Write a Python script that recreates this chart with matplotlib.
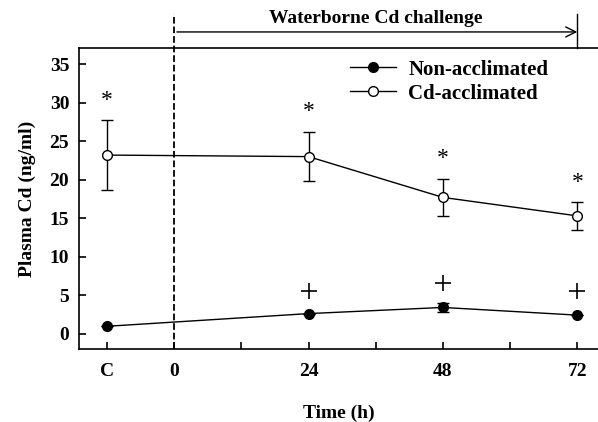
import numpy as np
import matplotlib.pyplot as plt

plt.rcParams['font.family'] = ['Liberation Serif', 'DejaVu Serif']
plt.rcParams['font.weight'] = 'bold'

# Data
time_pos = [-12, 24, 48, 72]          # "C" control plotted at -12
tick_pos = [-12, 0, 24, 48, 72]
tick_labels = ['C', '0', '24', '48', '72']

non_accl = [0.95, 2.6, 3.4, 2.4]
non_accl_err = [0.0, 0.0, 0.6, 0.0]
cd_accl = [23.2, 23.0, 17.7, 15.3]
cd_accl_err = [4.5, 3.2, 2.4, 1.8]

star_y = [30.3, 28.8, 22.8, 19.6]
plus_x = [24, 48, 72]
plus_y = [5.6, 6.6, 5.5]

fig = plt.figure(figsize=(5.98, 4.22), dpi=100)
ax = fig.add_axes([0.132, 0.173, 0.868, 0.713])

ax.errorbar(time_pos, non_accl, yerr=non_accl_err, fmt='none', ecolor='black',
            capsize=4, elinewidth=1, zorder=2)
ax.errorbar(time_pos, cd_accl, yerr=cd_accl_err, fmt='none', ecolor='black',
            capsize=4, elinewidth=1, zorder=2)
ax.plot(time_pos, non_accl, '-o', color='black', mfc='black', mec='black',
        ms=7, lw=1, label='Non-acclimated', zorder=3)
ax.plot(time_pos, cd_accl, '-o', color='black', mfc='white', mec='black',
        ms=7, lw=1, label='Cd-acclimated', zorder=3)

for x, y in zip(time_pos, star_y):
    ax.text(x, y, '*', ha='center', va='center', fontsize=17, fontweight='normal')
ax.plot(plus_x, plus_y, ls='none', marker='+', ms=12, mew=1.2, color='black')

ax.set_xlim(-17, 75.7)
ax.set_ylim(-2, 37.1)
ax.set_xticks(tick_pos)
ax.set_xticklabels(tick_labels)
ax.set_xticks([12, 36, 60], minor=True)
ax.set_yticks(np.arange(0, 36, 5))
ax.tick_params(axis='both', which='both', direction='in', length=5, width=1.2,
               labelsize=14, top=False, right=False)
ax.tick_params(axis='x', pad=10)
ax.tick_params(axis='y', pad=7)
for s in ['left', 'bottom', 'top']:
    ax.spines[s].set_linewidth(1.2)
ax.spines['right'].set_visible(False)

ax.set_xlabel('Time (h)', fontsize=14, fontweight='bold', labelpad=18)
ax.set_ylabel('Plasma Cd (ng/ml)', fontsize=14, fontweight='bold', labelpad=10)

# dashed line at start of challenge, extending above axes
ax.plot([0, 0], [-2, 41.5], ls='--', color='black', lw=1.3, clip_on=False)
ax.plot([72, 72], [37.1, 41.5], color='black', lw=1, clip_on=False)
ax.annotate('', xy=(72, 39.2), xytext=(0.5, 39.2), annotation_clip=False,
            arrowprops=dict(arrowstyle='->', color='black', lw=1,
                            shrinkA=0, shrinkB=0, mutation_scale=18))
ax.text(36, 40.9, 'Waterborne Cd challenge', ha='center', va='center',
        fontsize=14, fontweight='bold')

leg = ax.legend(loc='upper left', bbox_to_anchor=(0.5, 1.0), frameon=False,
                fontsize=15, handlelength=2.2, handletextpad=0.6,
                borderaxespad=0.15, labelspacing=0.2)
for t in leg.get_texts():
    t.set_fontweight('bold')

fig.savefig('out.png', dpi=100)
